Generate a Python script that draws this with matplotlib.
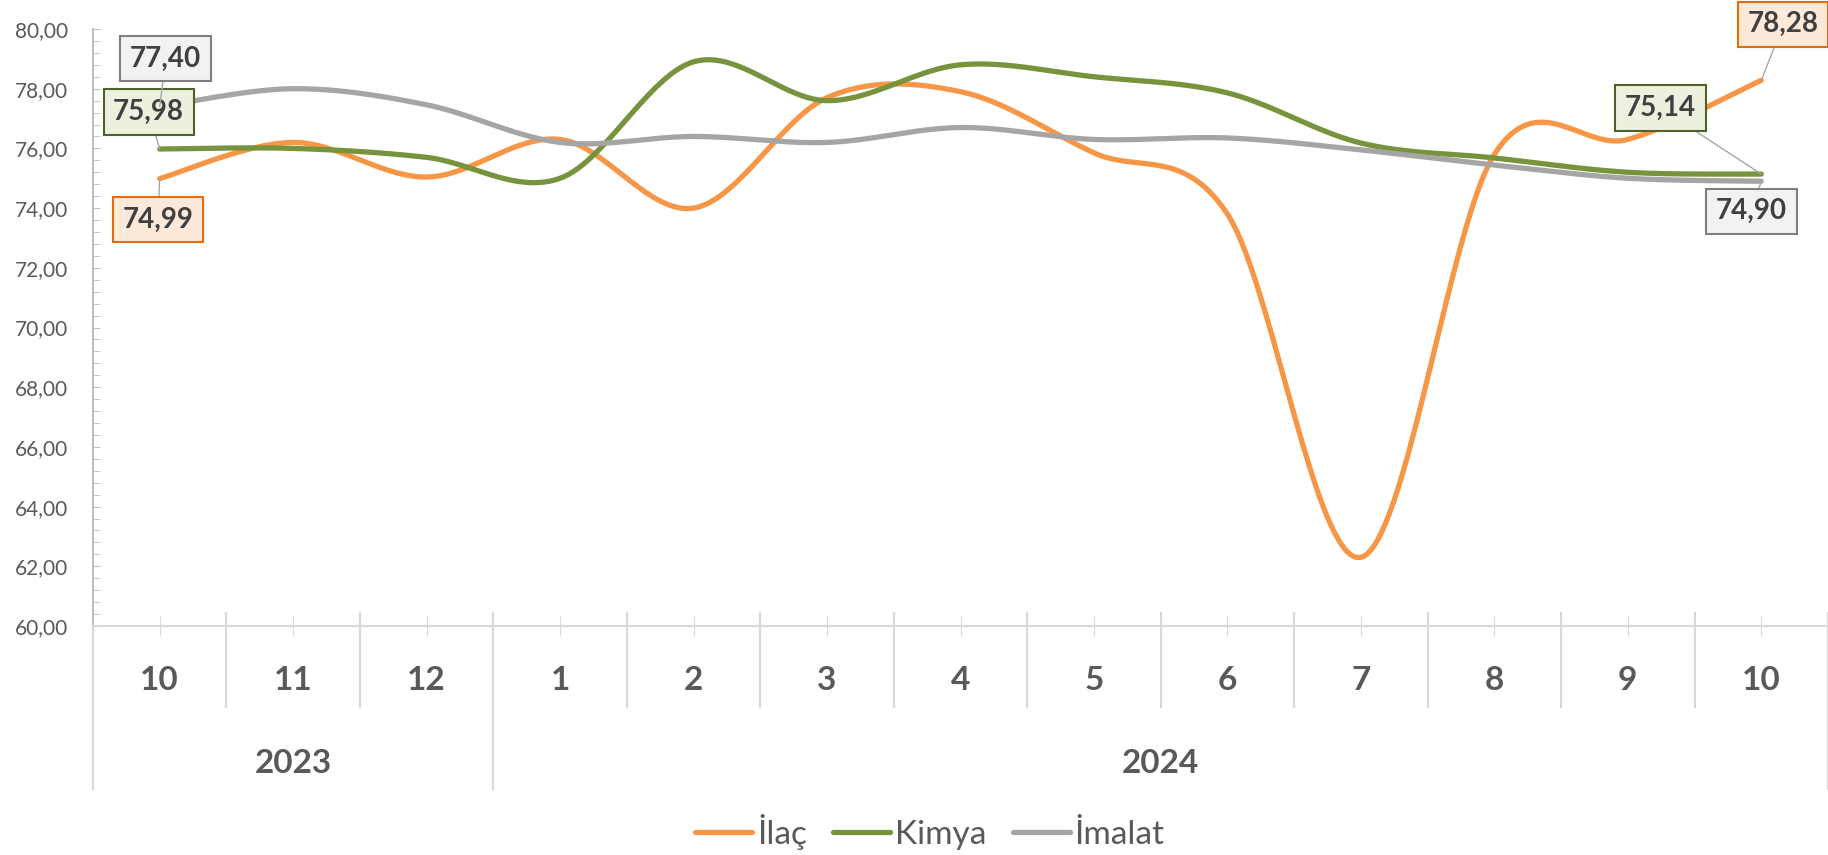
import numpy as np
import matplotlib
matplotlib.use("Agg")
import matplotlib.pyplot as plt

plt.rcParams['font.family'] = ['Lato', 'DejaVu Sans']

# data
months = ['10', '11', '12', '1', '2', '3', '4', '5', '6', '7', '8', '9', '10']
years = ['2023', '2024']
year_spans = [(0, 2), (3, 12)]
ilac = [74.99, 76.2, 75.04, 76.3, 74.0, 77.7, 77.9, 75.85, 73.8, 62.3, 75.8, 76.3, 78.28]
kimya = [75.98, 76.0, 75.7, 75.0, 78.9, 77.6, 78.8, 78.4, 77.86, 76.18, 75.68, 75.2, 75.14]
imalat = [77.40, 78.0, 77.46, 76.2, 76.4, 76.2, 76.7, 76.3, 76.35, 75.95, 75.44, 75.0, 74.90]

series = [
    ('İlaç', ilac, '#F79646', '#FDE9D9', '#E46C0A'),
    ('Kimya', kimya, '#77933C', '#EBF1DE', '#4F6228'),
    ('İmalat', imalat, '#A5A5A5', '#F2F2F2', '#7F7F7F'),
]

# label offsets in pixels (first point, last point)
offsets = {
    'İlaç': [(-2, -41), (22, 56)],
    'Kimya': [(-11, 37), (-101, 66)],
    'İmalat': [(6, 48), (-10, -30)],
}


def smooth(xs, ys, n=40):
    # Excel-like smoothed line (Catmull-Rom as cubic Bezier)
    p = np.column_stack([xs, ys]).astype(float)
    out = []
    for i in range(len(p) - 1):
        p0 = p[i - 1] if i > 0 else p[i]
        p1, p2 = p[i], p[i + 1]
        p3 = p[i + 2] if i + 2 < len(p) else p[i + 1]
        c1 = p1 + (p2 - p0) / 6
        c2 = p2 - (p3 - p1) / 6
        t = np.linspace(0, 1, n)[:, None]
        seg = (1 - t) ** 3 * p1 + 3 * (1 - t) ** 2 * t * c1 + 3 * (1 - t) * t ** 2 * c2 + t ** 3 * p2
        out.append(seg if i == 0 else seg[1:])
    out = np.vstack(out)
    return out[:, 0], out[:, 1]


fig = plt.figure(figsize=(18.28, 8.55), dpi=100)
ax = fig.add_axes([93 / 1828, 1 - 626 / 855, 1 - 93 / 1828, (626 - 29) / 855])

x = np.arange(len(months))
handles = []
for name, vals, col, face, edge in series:
    sx, sy = smooth(x, vals)
    h, = ax.plot(sx, sy, color=col, lw=3.8, solid_capstyle='round', label=name, zorder=3)
    handles.append(h)

for name, vals, col, face, edge in series:
    for k, idx in enumerate([0, len(vals) - 1]):
        dx, dy = offsets[name][k]
        ax.annotate(f'{vals[idx]:.2f}'.replace('.', ','), xy=(idx, vals[idx]),
                    xytext=(dx, dy), textcoords='offset pixels',
                    ha='center', va='center', fontsize=20, fontweight='bold', color='#404040',
                    bbox=dict(boxstyle='square,pad=0.35', fc=face, ec=edge, lw=1.5),
                    arrowprops=dict(arrowstyle='-', color='#A6A6A6', lw=1, shrinkA=0, shrinkB=0),
                    annotation_clip=False, zorder=5)

ax.set_xlim(-0.5, len(months) - 0.5)
ax.set_ylim(60, 80)
ax.set_yticks(np.arange(60, 81, 2))
ax.set_yticks(np.arange(60, 80.01, 0.4), minor=True)
ax.yaxis.set_major_formatter(plt.FuncFormatter(lambda v, p: f'{v:.2f}'.replace('.', ',')))
ax.tick_params(axis='y', which='both', direction='in', length=5, color='#BFBFBF',
               labelsize=15, labelcolor='#595959', pad=18)
ax.set_xticks(x)
ax.set_xticklabels([])
ax.tick_params(axis='x', direction='inout', length=14, color='#D9D9D9')

for s in ['top', 'right']:
    ax.spines[s].set_visible(False)
ax.spines['left'].set_color('#BFBFBF')
ax.spines['left'].set_linewidth(1.5)
ax.spines['bottom'].set_color('#D9D9D9')
ax.spines['bottom'].set_linewidth(1.5)

# two level category axis
tr = ax.get_xaxis_transform()
for i, m in enumerate(months):
    ax.text(i, -0.0905, m, transform=tr, ha='center', va='center',
            fontsize=24, fontweight='bold', color='#595959')
for b in np.arange(-0.5, len(months), 1.0):
    ax.plot([b, b], [0.022, -0.1357], transform=tr, color='#D9D9D9', lw=1.5, clip_on=False)
for (a, b), yr in zip(year_spans, years):
    ax.text((a + b) / 2, -0.231, yr, transform=tr, ha='center', va='center',
            fontsize=24, fontweight='bold', color='#595959')
    for e in (a - 0.5, b + 0.5):
        ax.plot([e, e], [0, -0.273], transform=tr, color='#D9D9D9', lw=1.5, clip_on=False)

fig.legend(handles=handles, loc='center', bbox_to_anchor=(930 / 1828, 1 - 832 / 855),
           ncol=3, frameon=False, fontsize=24, handlelength=1.7, handletextpad=0.15,
           columnspacing=0.8, labelcolor='#595959', borderpad=0)

fig.savefig('out.png', dpi=100)
